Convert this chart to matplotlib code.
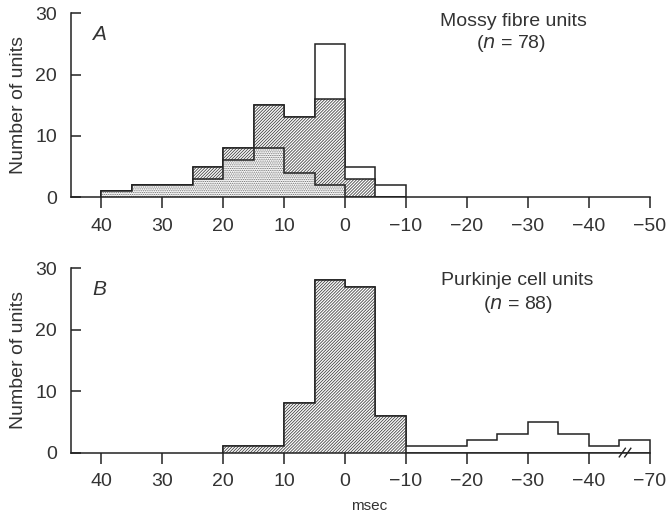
import matplotlib.pyplot as plt
import numpy as np

plt.rcParams['font.family'] = ['Liberation Sans', 'DejaVu Sans']
plt.rcParams['hatch.linewidth'] = 0.6

# bin edges in msec (axis runs from +40 on the left to negative values on the right)
edges_a = [40, 35, 30, 25, 20, 15, 10, 5, 0, -5, -10]
stipple_a = [1, 2, 2, 3, 6, 8, 4, 2, 0, 0]
hatched_a = [1, 2, 2, 5, 8, 15, 13, 16, 3, 0]
total_a = [1, 2, 2, 5, 8, 15, 13, 25, 5, 2]

edges_b = [20, 15, 10, 5, 0, -5, -10, -15, -20, -25, -30, -35, -40, -45, -50]
hatched_b = [1, 1, 8, 28, 27, 6, 0, 0, 0, 0, 0, 0, 0, 0]
total_b = [1, 1, 8, 28, 27, 6, 1, 1, 2, 3, 5, 3, 1, 2]

ticks_a = [40, 30, 20, 10, 0, -10, -20, -30, -40, -50]
ticklabels_a = ['40', '30', '20', '10', '0', '\u221210', '\u221220', '\u221230', '\u221240', '\u221250']
ticks_b = [40, 30, 20, 10, 0, -10, -20, -30, -40, -50]
ticklabels_b = ['40', '30', '20', '10', '0', '\u221210', '\u221220', '\u221230', '\u221240', '\u221270']

fig = plt.figure(figsize=(6.68, 5.19), dpi=100)
ax1 = fig.add_axes([0.106, 0.620, 0.894, 0.3545])
ax2 = fig.add_axes([0.106, 0.128, 0.894, 0.3555])

lw = 1.1
ink = '#222222'
txt = '#333333'


def style(ax, ticks, labels):
    ax.set_xlim(45, -53)
    ax.set_ylim(0, 30)
    ax.spines['top'].set_visible(False)
    ax.spines['right'].set_visible(False)
    ax.spines['bottom'].set_bounds(45, -50)
    ax.spines['left'].set_linewidth(lw)
    ax.spines['bottom'].set_linewidth(lw)
    ax.spines['left'].set_color(ink)
    ax.spines['bottom'].set_color(ink)
    ax.set_xticks(ticks)
    ax.set_xticklabels(labels)
    ax.set_yticks([0, 10, 20, 30])
    ax.tick_params(axis='x', direction='out', length=8, width=lw, labelsize=14, pad=7,
                   color=ink, labelcolor=txt)
    ax.tick_params(axis='y', direction='in', length=7, width=lw, labelsize=14, pad=10,
                   color=ink, labelcolor=txt)
    ax.set_ylabel('Number of units', fontsize=14, color=txt, labelpad=6)
    ax.patch.set_alpha(0)


def shade(ax, vals, edges, hatch, col):
    # hatching only, then outline drawn on top
    ax.stairs(vals, edges, fill=True, facecolor='white', edgecolor=col, hatch=hatch, lw=0)
    ax.stairs(vals, edges, fill=False, color=ink, lw=lw, baseline=0)


# panel A
ax1.stairs(total_a, edges_a, fill=True, facecolor='white', edgecolor=ink, lw=lw)
shade(ax1, hatched_a, edges_a, '/' * 11, '#444444')
shade(ax1, stipple_a, edges_a, '.' * 9, '#666666')
style(ax1, ticks_a, ticklabels_a)
ax1.text(41.5, 26.5, 'A', fontsize=15, style='italic', color=txt, ha='left', va='center')
ax1.text(-27.6, 28.7, 'Mossy fibre units', fontsize=14, color=txt, ha='center', va='center')
ax1.text(-27.3, 25.0, '($n$ = 78)', fontsize=14, color=txt, ha='center', va='center')

# panel B
ax2.stairs(total_b, edges_b, fill=True, facecolor='white', edgecolor=ink, lw=lw)
shade(ax2, hatched_b, edges_b, '/' * 11, '#444444')
style(ax2, ticks_b, ticklabels_b)
ax2.text(41.5, 26.5, 'B', fontsize=15, style='italic', color=txt, ha='left', va='center')
ax2.text(-28.2, 28.0, 'Purkinje cell units', fontsize=14, color=txt, ha='center', va='center')
ax2.text(-28.4, 24.0, '($n$ = 88)', fontsize=14, color=txt, ha='center', va='center')
ax2.set_xlabel('msec', fontsize=11, color=txt, labelpad=6)

# axis break marks
for dx in (0, 0.9):
    ax2.plot([-45.0 - dx, -46.0 - dx], [-0.7, 0.7], color=ink, lw=1.0, clip_on=False)

fig.savefig('out.png', dpi=100)
